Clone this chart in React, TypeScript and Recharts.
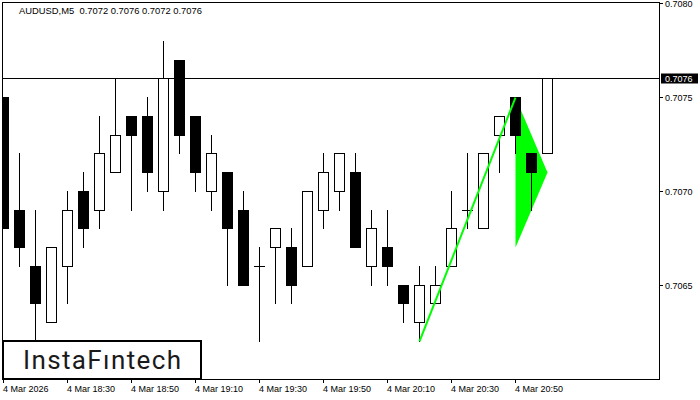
import React from 'react';
import { ComposedChart, Bar, Line, Area, XAxis, YAxis, ReferenceLine, ReferenceArea } from 'recharts';

// AUDUSD M5, 4 Mar 2026 18:10 .. 20:55, one candle every 5 minutes
const OPEN = [0.7075, 0.7069, 0.7066, 0.7063, 0.7066, 0.707, 0.7069, 0.7071, 0.7074, 0.7074, 0.707, 0.7077, 0.7074, 0.707, 0.7071, 0.7069, 0.7066, 0.7067, 0.7067, 0.7066, 0.7069, 0.707, 0.7071, 0.7066, 0.7067, 0.7065, 0.7063, 0.7064, 0.7066, 0.7069, 0.7068, 0.7073, 0.7075, 0.7072, 0.7072];
const HIGH = [0.7075, 0.7072, 0.7069, 0.7067, 0.707, 0.7071, 0.7074, 0.7076, 0.7074, 0.7075, 0.7078, 0.7077, 0.7074, 0.7073, 0.7071, 0.707, 0.7067, 0.7068, 0.7068, 0.707, 0.7072, 0.7072, 0.7072, 0.7069, 0.7069, 0.7065, 0.7066, 0.7066, 0.707, 0.7072, 0.7072, 0.7074, 0.7075, 0.7072, 0.7076];
const LOW = [0.7068, 0.7066, 0.7062, 0.7063, 0.7064, 0.7067, 0.7068, 0.7071, 0.7069, 0.707, 0.7069, 0.7072, 0.707, 0.7069, 0.7065, 0.7065, 0.7062, 0.7064, 0.7064, 0.7066, 0.7068, 0.7069, 0.7067, 0.7065, 0.7065, 0.7063, 0.7062, 0.7064, 0.7066, 0.7068, 0.7068, 0.7071, 0.7072, 0.7069, 0.7072];
const CLOSE = [0.7068, 0.7067, 0.7064, 0.7067, 0.7069, 0.7068, 0.7072, 0.7073, 0.7073, 0.7071, 0.7076, 0.7073, 0.7071, 0.7072, 0.7068, 0.7065, 0.7066, 0.7068, 0.7065, 0.707, 0.7071, 0.7072, 0.7067, 0.7068, 0.7066, 0.7064, 0.7065, 0.7065, 0.7068, 0.7069, 0.7072, 0.7074, 0.7073, 0.7071, 0.7076];

const TIME_TICKS = [0, 4, 8, 12, 16, 20, 24, 28, 32];
const TIME_LABELS = ['4 Mar 2026', '4 Mar 18:30', '4 Mar 18:50', '4 Mar 19:10', '4 Mar 19:30', '4 Mar 19:50', '4 Mar 20:10', '4 Mar 20:30', '4 Mar 20:50'];
const PRICE_TICKS = [0.7065, 0.707, 0.7075, 0.7076, 0.708];
const CURRENT = 0.7076;

// bullish pennant: pole from the low of candle 26 to the high of candle 32
const POLE_START = 26;
const POLE_END = 32;
const FLAG_START = 32;
const FLAG_END = 34;
const FLAG_TOP = 0.7075;
const FLAG_BOTTOM = 0.7067;
const FLAG_APEX = 0.7071;

const X_DOMAIN = [-0.09375, 40.96875];
const Y_DOMAIN = [0.70599893, 0.7080096];

const data = OPEN.map((open, i) => ({
  i,
  open,
  high: HIGH[i],
  low: LOW[i],
  close: CLOSE[i],
  pole: i === POLE_START ? LOW[i] : i === POLE_END ? HIGH[i] : null,
  flag: i === FLAG_START ? [FLAG_BOTTOM, FLAG_TOP] : i === FLAG_END ? [FLAG_APEX, FLAG_APEX] : null,
}));

const FONT = '"Liberation Sans", Arial, sans-serif';
const snap = (v: number) => Math.round(v - 0.5) + 0.5;

const Candle = (props: any) => {
  const { x, y, width, height, payload } = props;
  const { open, high, low, close } = payload;
  const top = Math.min(y, y + height);
  const h = Math.abs(height);
  const py = (p: number) => top + ((high - p) / (high - low)) * h;
  const cx = snap(x + width / 2);
  const bTop = snap(py(Math.max(open, close)));
  const bBot = snap(py(Math.min(open, close)));
  return (
    <g>
      <line x1={cx} x2={cx} y1={snap(py(high)) - 0.5} y2={snap(py(low)) + 0.5} stroke="#000" />
      {open === close ? (
        <line x1={cx - 5.5} x2={cx + 5.5} y1={bTop} y2={bTop} stroke="#000" />
      ) : (
        <rect x={cx - 5} y={bTop} width={10} height={bBot - bTop} fill={close > open ? '#fff' : '#000'} stroke="#000" />
      )}
    </g>
  );
};

const PriceTick = (props: any) => {
  const { x, y, payload } = props;
  const v = payload.value as number;
  const yy = snap(y);
  if (Math.abs(v - CURRENT) < 1e-9) {
    return (
      <g>
        <rect x={x + 2} y={yy - 5} width={37} height={10} fill="#000" />
        <text x={x + 6} y={yy + 3.5} fill="#fff" fontSize={9} fontFamily={FONT}>{v.toFixed(4)}</text>
      </g>
    );
  }
  return (
    <g>
      <line x1={x} x2={x + 4} y1={yy} y2={yy} stroke="#000" />
      <text x={x + 6} y={yy + 3.5} fill="#000" fontSize={9} fontFamily={FONT}>{v.toFixed(4)}</text>
    </g>
  );
};

const TimeTick = (props: any) => {
  const { x, y, payload } = props;
  const xx = snap(x);
  const label = TIME_LABELS[TIME_TICKS.indexOf(payload.value)];
  return (
    <g>
      <line x1={xx} x2={xx} y1={y} y2={y + 4} stroke="#000" />
      <text x={xx - 0.5} y={y + 13} fill="#000" fontSize={9} fontFamily={FONT}>{label}</text>
    </g>
  );
};

const Frame = (props: any) => {
  const { x, y, width, height } = props;
  return <rect x={x + 0.5} y={y + 0.5} width={width} height={height} fill="none" stroke="#000" />;
};

const HLine = (props: any) => {
  const { x1, x2, y1 } = props;
  return <line x1={x1} x2={x2} y1={snap(y1)} y2={snap(y1)} stroke="#000" />;
};

export default function App() {
  return (
    <div style={{ position: 'absolute', left: 0, top: 0, width: 700, height: 400, background: '#fff' }}>
      <ComposedChart width={700} height={400} data={data} margin={{ top: 2, right: 0, bottom: 0, left: 2 }}>
        <XAxis
          dataKey="i"
          type="number"
          domain={X_DOMAIN}
          allowDataOverflow
          ticks={TIME_TICKS}
          interval={0}
          axisLine={false}
          tickLine={false}
          tickSize={0}
          tickMargin={0}
          height={21}
          tick={<TimeTick />}
        />
        <YAxis
          orientation="right"
          type="number"
          domain={Y_DOMAIN}
          allowDataOverflow
          ticks={PRICE_TICKS}
          interval={0}
          axisLine={false}
          tickLine={false}
          tickSize={0}
          tickMargin={0}
          width={41}
          tick={<PriceTick />}
        />
        <Area dataKey="flag" type="linear" connectNulls fill="#00ff00" fillOpacity={1} stroke="none" isAnimationActive={false} />
        <Bar dataKey={(d: any) => [d.low, d.high]} barSize={11} shape={<Candle />} isAnimationActive={false} />
        <Line dataKey="pole" type="linear" connectNulls stroke="#00ff00" strokeWidth={2} dot={false} isAnimationActive={false} />
        <ReferenceLine y={CURRENT} shape={<HLine />} />
        <ReferenceArea x1={X_DOMAIN[0]} x2={X_DOMAIN[1]} y1={Y_DOMAIN[0]} y2={Y_DOMAIN[1]} ifOverflow="visible" shape={<Frame />} />
      </ComposedChart>
      <svg width={700} height={400} style={{ position: 'absolute', left: 0, top: 0, pointerEvents: 'none' }}>
        <text x={19} y={14} fontSize={9.4} fontFamily={FONT} fill="#000" style={{ whiteSpace: 'pre' }}>
          AUDUSD,M5  0.7072 0.7076 0.7072 0.7076
        </text>
        <rect x={3} y={341} width={198} height={38} fill="#fff" stroke="#000" strokeWidth={2} />
        <text x={23} y={369} fontSize={26} fontWeight={400} fontFamily="Roboto, sans-serif" fill="#1a1a1a" textLength={158} lengthAdjust="spacing">
          InstaFıntech
        </text>
      </svg>
    </div>
  );
}
